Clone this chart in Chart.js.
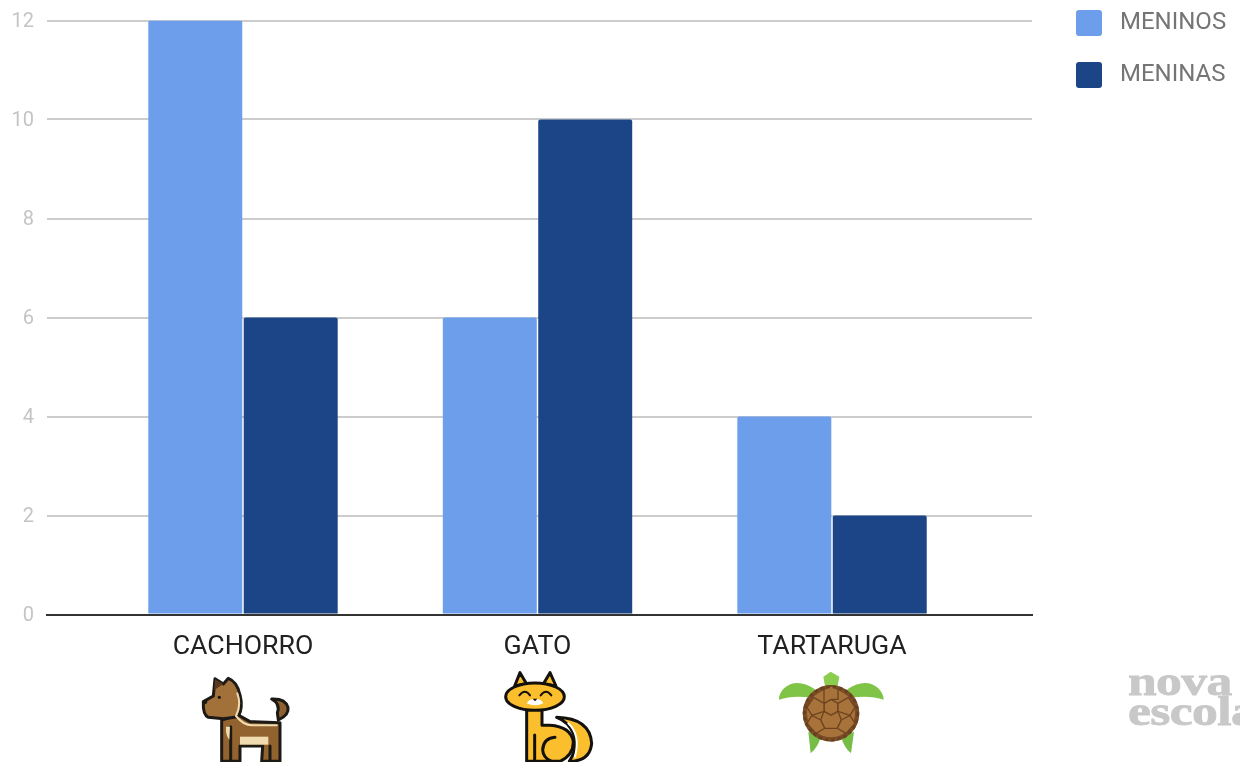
<!DOCTYPE html>
<html>
<head>
<meta charset="utf-8">
<script src="https://cdn.jsdelivr.net/npm/chart.js@4"></script>
<style>
html,body{margin:0;padding:0;background:#fff;overflow:hidden}
#wrap{position:relative;width:1240px;height:762px;overflow:hidden}
canvas{position:absolute;left:0;top:0}
svg{position:absolute;left:0;top:0}
.logo{position:absolute;left:1128px;font-family:"Liberation Serif",serif;font-weight:700;color:#c8c8c8;font-size:43px;line-height:33px;white-space:nowrap;letter-spacing:-.5px;transform:scaleX(1.2);transform-origin:left top;-webkit-text-stroke:.8px #c8c8c8}
</style>
</head>
<body>
<div id="wrap">
<canvas id="c" width="1240" height="762"></canvas>
<svg width="1240" height="762" viewBox="0 0 1240 762">
  <g transform="translate(160,620) scale(.33333)" stroke="#1d1a16" stroke-width="9" stroke-linejoin="round" stroke-linecap="round">
    <path d="M355 300Q388 285 384 262Q376 235 335 237Q362 252 352 278Z" fill="#8f6130"/>
    <path d="M185 300L185 424L240 424L240 378L308 378L305 424L360 424L360 308L270 305L235 285Z" fill="#92622f"/>
    <path d="M240 350H325V374H240Z" fill="#f0dcae" stroke="none"/>
    <path d="M212 320L212 420M330 378V420" fill="none"/>
    <path d="M130 245L160 228L165 176L190 192L205 175Q232 185 240 225Q250 262 235 290L190 296L145 292Q128 285 130 245Z" fill="#a2713a"/>
    <path d="M163 210L165 178L190 192Z" fill="#5a3a1e" stroke="none"/>
    <path d="M232 220Q245 255 228 288Q250 315 275 316H350" fill="none" stroke="#f0dcae" stroke-width="6"/>
    <path d="M198 320Q196 345 208 360L210 320Z" fill="#f0dcae" stroke="none"/>
    <circle cx="178" cy="232" r="5" fill="#1d1a16" stroke="none"/>
    <circle cx="136" cy="246" r="6" fill="#1d1a16" stroke="none"/>
  </g>
  <g transform="translate(160,620) scale(.33333)" stroke="#14110d" stroke-width="9" stroke-linejoin="round" stroke-linecap="round">
    <path d="M1190 292Q1290 295 1295 370Q1290 424 1228 424Q1256 380 1240 340Q1225 305 1190 292Z" fill="#fbbf2d"/>
    <path d="M1100 262V424H1200Q1240 405 1240 365Q1232 320 1170 316H1146V262Z" fill="#fbbf2d"/>
    <path d="M1225 310Q1262 345 1245 410" fill="none" stroke="#fff" stroke-width="6"/>
    <path d="M1124 345V424M1185 352Q1150 355 1148 390Q1150 415 1175 424" fill="none"/>
    <path d="M1064 198L1080 158L1100 192ZM1150 192L1170 158L1188 198Z" fill="#fbbf2d"/>
    <ellipse cx="1125" cy="230" rx="88" ry="41" fill="#fbbf2d"/>
    <path d="M1078 226Q1095 205 1110 226M1142 226Q1158 205 1174 226" fill="none" stroke-width="6"/>
    <path d="M1100 250Q1112 232 1125 240Q1140 232 1150 250Q1125 262 1100 250Z" fill="#fff" stroke="none"/>
    <path d="M1118 236H1132L1125 244Z" fill="#14110d" stroke="none"/>
  </g>
  <g transform="translate(740,620) scale(.33333)">
    <path d="M225 208Q170 172 132 205Q116 222 117 239Q160 224 218 234Z" fill="#7fc447"/>
    <path d="M322 208Q377 172 415 205Q431 222 431 239Q388 224 328 234Z" fill="#7fc447"/>
    <path d="M250 170L272 155L298 170L293 198H255Z" fill="#8ccc4e"/>
    <path d="M205 335L212 400Q235 380 242 350Z" fill="#76bd45"/>
    <path d="M342 335L333 400Q310 380 304 350Z" fill="#76bd45"/>
    <circle cx="273" cy="280" r="85" fill="#7a4d26"/>
    <circle cx="273" cy="280" r="72" fill="#a8733a"/>
    <g fill="#a8733a" stroke="#6e4420" stroke-width="4">
      <path d="M252 250L273 238L294 250V274L273 286L252 274Z"/>
      <path d="M252 208L273 197L294 208V238L273 238L252 250Z"/>
      <path d="M252 274L273 286L294 274L304 300L292 325H254L242 300Z"/>
      <path d="M294 250L325 232L345 262L330 286L294 274Z"/>
      <path d="M252 250L221 232L201 262L216 286L252 274Z"/>
      <path d="M304 300L330 286L345 310L318 340L292 325Z"/>
      <path d="M242 300L216 286L201 310L228 340L254 325Z"/>
    </g>
    <circle cx="273" cy="280" r="80" fill="none" stroke="#6a4120" stroke-width="9" stroke-dasharray="10 9"/>
  </g>
</svg>
<div class="logo" style="top:664px">nova</div>
<div class="logo" style="top:694px">escola</div>
</div>
<script>
const categories = ["CACHORRO", "GATO", "TARTARUGA"];
const seriesNames = ["MENINOS", "MENINAS"];
const meninos = [12, 6, 4];
const meninas = [6, 10, 2];
const yTicks = [0, 2, 4, 6, 8, 10, 12];

const toPoints = vals => vals.map((y, x) => ({x, y}));

const placeLegend = {
  id: 'placeLegend',
  beforeLayout(chart) {
    const lg = chart.legend;
    if (lg && !lg.__wrapped) {
      const fit = lg.fit.bind(lg);
      lg.fit = function () { fit(); this.width = 208; };
      lg.__wrapped = true;
    }
  },
  afterLayout(chart) {
    chart.legend.left = 1056;
    chart.legend.top = -10;
  }
};

new Chart(document.getElementById('c'), {
  type: 'bar',
  plugins: [placeLegend],
  data: {
    datasets: [
      {label: seriesNames[0], data: toPoints(meninos), backgroundColor: '#6d9eeb', borderRadius: {topLeft: 2, topRight: 2}},
      {label: seriesNames[1], data: toPoints(meninas), backgroundColor: '#1c4587', borderRadius: {topLeft: 2, topRight: 2}}
    ]
  },
  options: {
    responsive: false,
    animation: false,
    devicePixelRatio: 1,
    layout: {autoPadding: false, padding: {top: 20.5, left: 0, right: 0, bottom: 0}},
    categoryPercentage: 0.648,
    barPercentage: 0.985,
    plugins: {
      tooltip: {enabled: false},
      title: {display: false},
      legend: {
        position: 'right',
        align: 'start',
        labels: {
          boxWidth: 38,
          boxHeight: 38,
          padding: 14,
          color: '#757575',
          font: {family: 'Roboto', size: 24, lineHeight: 1},
          useBorderRadius: true,
          borderRadius: 9,
          generateLabels(chart) {
            return Chart.defaults.plugins.legend.labels.generateLabels(chart).map(item => ({
              ...item, strokeStyle: '#ffffff', lineWidth: 12
            }));
          }
        }
      }
    },
    scales: {
      x: {
        type: 'linear',
        min: -0.6655,
        max: 2.679,
        offset: false,
        afterBuildTicks(s) { s.ticks = categories.map((_, i) => ({value: i})); },
        afterFit(s) { s.height = 147.5; },
        grid: {display: false, drawTicks: false},
        border: {display: true, color: '#333333', width: 2},
        ticks: {
          autoSkip: false,
          maxRotation: 0,
          padding: 17,
          color: '#212121',
          font: {family: 'Roboto', size: 26.7},
          callback: v => categories[v]
        }
      },
      y: {
        min: yTicks[0],
        max: yTicks[yTicks.length - 1],
        afterFit(s) { s.width = 47; s.paddingTop = 0; s.paddingBottom = 0; },
        afterBuildTicks(s) { s.ticks = yTicks.map(value => ({value})); },
        grid: {color: '#cccccc', lineWidth: 2, drawTicks: false},
        border: {display: false},
        ticks: {
          padding: 13,
          labelOffset: 1.5,
          color: '#c4c4c4',
          font: {family: 'Roboto', size: 20}
        }
      }
    }
  }
});
</script>
</body>
</html>
